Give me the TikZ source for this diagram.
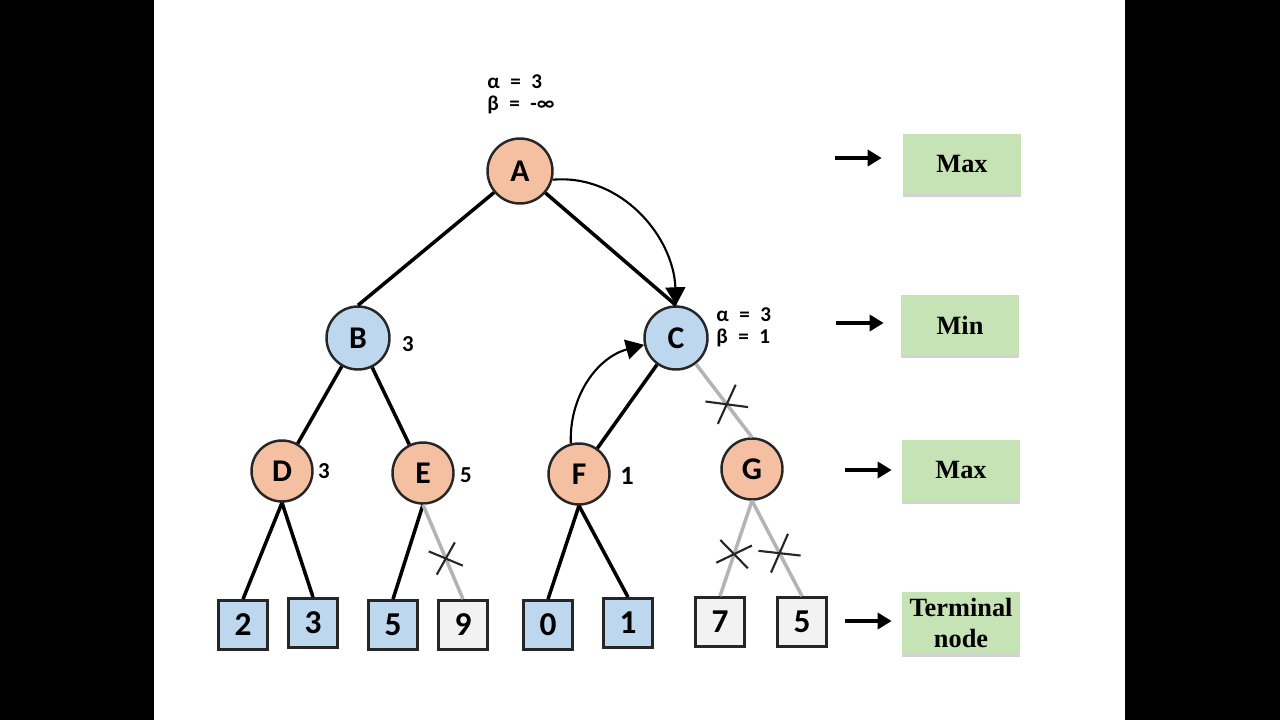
\documentclass[tikz,border=0pt]{standalone}
\usepackage{fontspec}
\setsansfont{Carlito}
\newfontfamily\boxfont{Liberation Serif}
\usetikzlibrary{arrows.meta,shapes.misc,shadows}
\definecolor{maxfill}{HTML}{F5C0A2}
\definecolor{minfill}{HTML}{BDD7EE}
\definecolor{leaffill}{HTML}{F2F2F2}
\definecolor{rowfill}{HTML}{C6E3B5}
\definecolor{cutgray}{HTML}{B4B4B4}
\tikzset{
  maxnode/.style={circle,draw=black!85,line width=1.4pt,fill=maxfill,minimum size=1.22cm,
    inner sep=0pt,font=\sffamily\bfseries\fontsize{18}{18}\selectfont},
  minnode/.style={maxnode,fill=minfill,minimum size=1.26cm},
  leaf/.style={rectangle,draw=black!85,line width=1.6pt,fill=minfill,minimum size=0.98cm,
    inner sep=0pt,font=\sffamily\bfseries\fontsize{19}{19}\selectfont},
  cutleaf/.style={leaf,fill=leaffill},
  val/.style={inner sep=0pt,font=\sffamily\bfseries\fontsize{13}{13}\selectfont},
  ab/.style={inner sep=0pt,align=left,font=\sffamily\bfseries\fontsize{12}{12.5}\selectfont},
  row/.style={rectangle,fill=rowfill,minimum width=2.36cm,minimum height=1.22cm,align=center,
    font=\boxfont\bfseries\fontsize{15}{18}\selectfont,
    drop shadow={shadow xshift=0pt,shadow yshift=-0.06cm,opacity=0.35}},
  cut/.style={cross out,draw=black!85,line width=1.2pt,inner sep=0pt},
  side/.style={line width=2.3pt,-{Triangle[length=0.28cm,width=0.32cm]}},
  curvearrow/.style={line width=1.2pt,-{Triangle[length=0.36cm,width=0.4cm]}}
}
\begin{document}
\begin{tikzpicture}[x=0.02cm,y=-0.02cm]
  \fill[black] (0,0) rectangle (1280,720);
  \fill[white] (154,0) rectangle (1125,720);
  \draw
    (520,171) node[maxnode,minimum size=1.3cm] (A){A}
    (358,338) node[minnode] (B){B}
    (676,338) node[minnode] (C){C}
    (282,471) node[maxnode] (D){D}
    (423,473) node[maxnode] (E){E}
    (579,474) node[maxnode] (F){F}
    (752,469) node[maxnode] (G){G};
  \draw
    (243,625) node[leaf] (l1){2}
    (313,623) node[leaf] (l2){3}
    (393,625) node[leaf] (l3){5}
    (463,625) node[cutleaf] (l4){9}
    (548,625) node[leaf] (l5){0}
    (628,623) node[leaf] (l6){1}
    (720,622) node[cutleaf] (l7){7}
    (802,622) node[cutleaf] (l8){5};
  \draw
    (487,94) node[ab,anchor=west] (abA){α\enspace=\enspace3\\β\enspace=\enspace-∞}
    (716,327) node[ab,anchor=west] (abC){α\enspace=\enspace3\\β\enspace=\enspace1}
    (408,344) node[val] (vB){3}
    (324,471) node[val] (vD){3}
    (466,475) node[val] (vE){5}
    (627,476) node[val,font=\sffamily\bfseries\fontsize{15}{15}\selectfont] (vF){1};
  \draw
    (962,164) node[row] (r1){Max}
    (960,325) node[row] (r2){Min}
    (961,470) node[row] (r3){Max}
    (961,623) node[row] (r4){Terminal\\node};
  \coordinate (s1) at (835,158);
  \coordinate (s2) at (836,323);
  \coordinate (s3) at (845,470);
  \coordinate (s4) at (845,621);
  \begin{scope}[line width=2pt]
    \draw (A) to (B.north);
    \draw (A) to (C.north);
    \draw (B) to (D);
    \draw (B) to (E);
    \draw (C) to (F);
    \draw (D.south) to (l1.north);
    \draw (D.south) to (l2.north);
    \draw (E.south) to (l3.north);
    \draw (F.south) to (l5.north);
    \draw (F.south) to (l6.north);
  \end{scope}
  \begin{scope}[line width=2pt,cutgray]
    \draw (C) to node[cut,pos=0.55,rotate=29,minimum width=0.65cm,minimum height=0.47cm]{} (G.north);
    \draw (E.south) to node[cut,pos=0.57,rotate=19,minimum width=0.51cm,minimum height=0.45cm]{} (l4.north);
    \draw (G.south) to node[cut,pos=0.56,rotate=-10,minimum width=0.6cm,minimum height=0.42cm]{} (l7.north);
    \draw (G.south) to node[cut,pos=0.55,rotate=30,minimum width=0.64cm,minimum height=0.46cm]{} (l8.north);
  \end{scope}
  \draw[curvearrow] (A.-15) to[out=5,in=92] (C.north);
  \draw[curvearrow] (F.105) to[out=92,in=195] (C.192);
  \draw[side,shorten >=0.42cm] (s1) -- (s1 -| r1.west);
  \draw[side,shorten >=0.34cm] (s2) -- (s2 -| r2.west);
  \draw[side,shorten >=0.2cm] (s3) -- (s3 -| r3.west);
  \draw[side,shorten >=0.2cm] (s4) -- (s4 -| r4.west);
\end{tikzpicture}
\end{document}
